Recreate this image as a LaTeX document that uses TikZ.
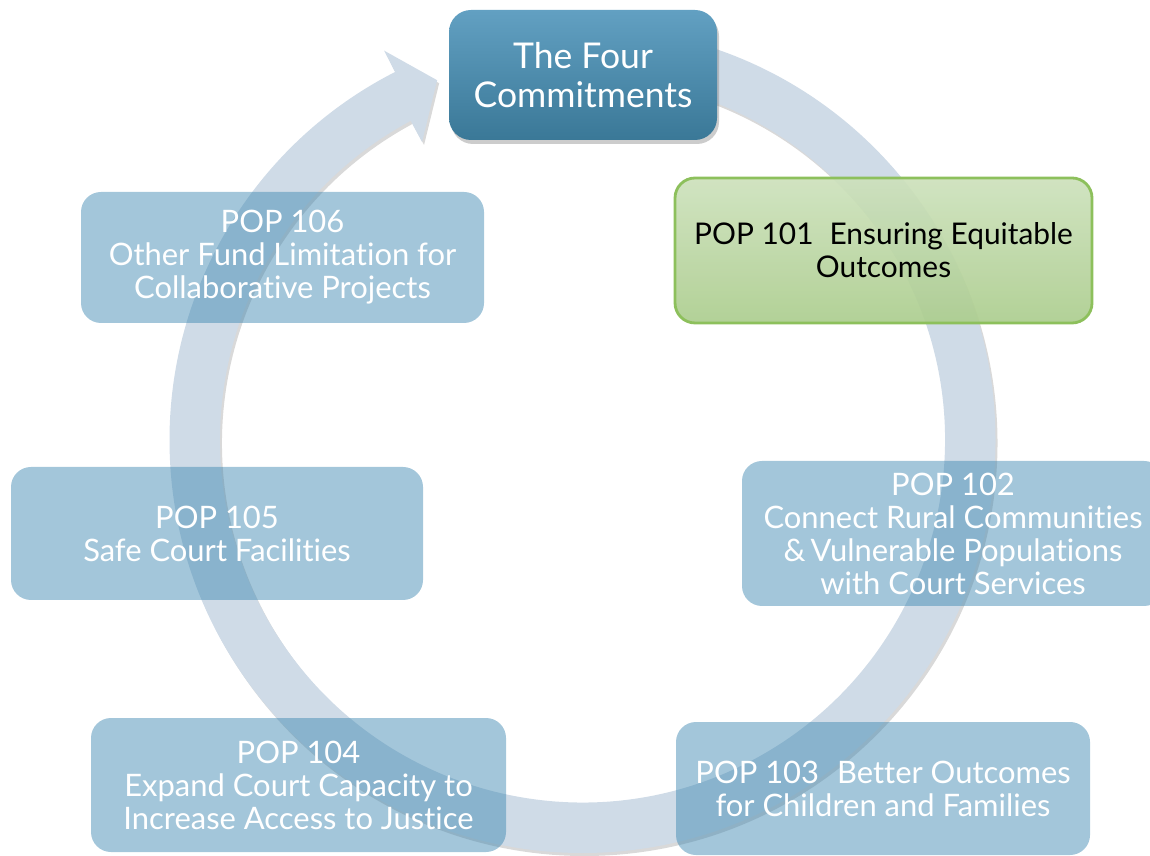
\documentclass[tikz,border=0pt]{standalone}
\usepackage{fontspec}
\setmainfont{Lato}[Ligatures={NoCommon,NoRare}]
\usetikzlibrary{shadows}
\definecolor{ringblue}{RGB}{207,219,231}
\definecolor{popblue}{RGB}{60,134,176}
\definecolor{titletop}{RGB}{98,160,194}
\definecolor{titlebottom}{RGB}{58,120,151}
\definecolor{greentop}{RGB}{205,225,188}
\definecolor{greenbottom}{RGB}{172,205,142}
\definecolor{greenline}{RGB}{141,192,92}
\begin{document}
\begin{tikzpicture}[
        popbox/.style={rounded corners=0.2cm, fill=popblue, fill opacity=0.47, text opacity=1, text=white, align=center, inner sep=0pt, font=\fontsize{8.8}{9.4}\selectfont},
        titlebox/.style={rounded corners=0.22cm, top color=titletop, bottom color=titlebottom, text=white, align=center, inner sep=0pt, minimum width=2.68cm, minimum height=1.3cm, font=\fontsize{10.1}{11.3}\selectfont, drop shadow={shadow xshift=0.02cm, shadow yshift=-0.04cm, opacity=0.4}},
        greenbox/.style={rounded corners=0.2cm, draw=greenline, line width=0.8pt, top color=greentop, bottom color=greenbottom, fill opacity=0.92, text opacity=1, align=center, inner sep=0pt, font=\fontsize{8.5}{9.4}\selectfont}
    ]
    \useasboundingbox (0,0) rectangle (11.5,8.55);
    \begin{scope}[shift={(5.825,4.15)}]
        \fill[ringblue, drop shadow={shadow xshift=0.02cm, shadow yshift=-0.03cm, opacity=0.3}] (90:4.13) arc[start angle=90, end angle=-243, radius=4.13] -- (117:4.37) -- (112:3.88) -- (118.3:3.385) -- (118.3:3.625) arc[start angle=-241.7, end angle=90, radius=3.625] -- cycle;
    \end{scope}
    \node[popbox, minimum width=4.03cm, minimum height=1.31cm] (pop106) at (2.825,5.975) {POP 106\\Other Fund Limitation for\\Collaborative Projects};
    \node[popbox, minimum width=4.12cm, minimum height=1.33cm] (pop105) at (2.17,3.215) {POP 105\\Safe Court Facilities};
    \node[popbox, minimum width=4.15cm, minimum height=1.34cm] (pop104) at (2.985,0.70) {POP 104\\Expand Court Capacity to\\Increase Access to Justice};
    \node[popbox, minimum width=4.14cm, minimum height=1.33cm] (pop103) at (8.83,0.665) {POP 103\hspace{0.18cm}Better Outcomes\\for Children and Families};
    \node[popbox, minimum width=4.22cm, minimum height=1.45cm] (pop102) at (9.53,3.215) {POP 102\\Connect Rural Communities\\\&\hspace{0.05cm}Vulnerable Populations\\with Court Services};
    \node[greenbox, minimum width=4.17cm, minimum height=1.45cm] (pop101) at (8.835,6.045) {POP 101\hspace{0.16cm}Ensuring Equitable\\Outcomes};
    \node[titlebox] (four) at (5.83,7.80) {The Four\\Commitments};
\end{tikzpicture}
\end{document}
